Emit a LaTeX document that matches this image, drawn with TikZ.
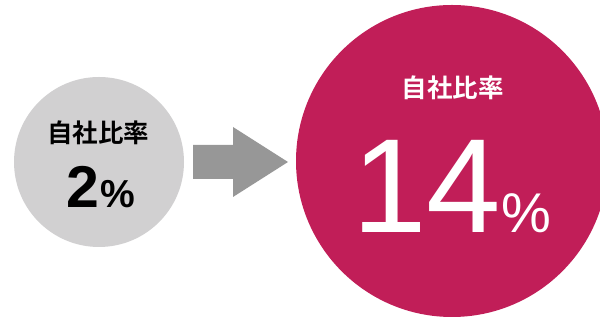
\documentclass[tikz,border=0pt]{standalone}
\usepackage{fontspec}
\setmainfont{Liberation Sans}
\newfontfamily\jpfont{Noto Sans CJK JP}[BoldFont=* Bold]
\definecolor{magentaC}{HTML}{C11E58}
\definecolor{grayC}{HTML}{D1D0D1}
\definecolor{arrowC}{HTML}{979797}
\tikzset{
  jplabel/.style={inner sep=0pt, font=\jpfont\bfseries\fontsize{25.5}{25.5}\selectfont},
  numlabel/.style={inner sep=0pt, anchor=base west}
}
\begin{document}
\begin{tikzpicture}[x=1pt,y=1pt]
\useasboundingbox (0,0) rectangle (600,320);
\begin{scope}
\clip (0,0) rectangle (600,320);
\fill[magentaC] (452,159) circle (156);
\end{scope}
\fill[grayC] (99,158) circle (85);
\fill[arrowC] (193,175) -- (233,175) -- (233,193) -- (288,158) -- (233,123) -- (233,141) -- (193,141) -- cycle;
\node[jplabel, text=black] (t1) at (98,187.5) {自社比率};
\node[numlabel, text=black, font=\bfseries\fontsize{59}{59}\selectfont] (n1) at (66,112) {2\kern1.5pt{\fontsize{39}{39}\selectfont\%}};
\node[jplabel, text=white] (t2) at (452.5,232.5) {自社比率};
\node[numlabel, text=white, font=\fontsize{134}{134}\selectfont] (n2) at (352,87) {14{\fontsize{56}{56}\selectfont\%}};
\end{tikzpicture}
\end{document}
